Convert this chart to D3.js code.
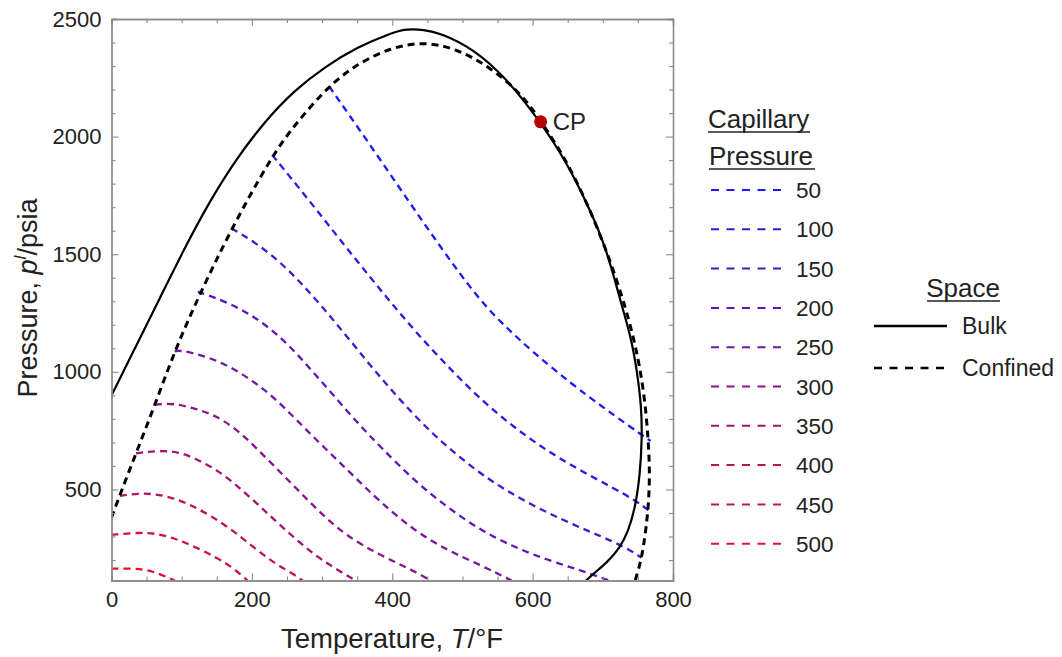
<!DOCTYPE html>
<html>
<head>
<meta charset="utf-8">
<script src="https://cdn.jsdelivr.net/npm/d3@7"></script>
<style>
  html, body { margin: 0; padding: 0; background: #fff; }
  svg { display: block; font-family: "Liberation Sans", Arial, sans-serif; }
</style>
</head>
<body>
<svg id="chart" width="1062" height="657"></svg>
<script>
// ---------------- DATA ----------------
const xTicksMajor = [0, 200, 400, 600, 800];
const yTicksMajor = [500, 1000, 1500, 2000, 2500];

// Bulk phase envelope (T in °F, p in psia)
const bulkT = [0, 35, 69, 104, 137, 175, 218, 261, 304, 351, 398, 420, 445, 468, 515, 563, 611, 648, 681, 705, 724, 740, 749, 755, 756, 753, 746, 736, 724, 706, 690, 676];
const bulkP = [900, 1110, 1314, 1525, 1710, 1894, 2064, 2198, 2297, 2382, 2440, 2458, 2455, 2440, 2375, 2248, 2063, 1894, 1695, 1525, 1313, 1150, 1000, 850, 725, 560, 420, 320, 250, 190, 150, 113];

// Confined phase envelope
const confinedT = [0, 14, 38, 62, 90, 123, 171, 228, 261, 308, 351, 398, 444, 491, 539, 586, 612, 650, 694, 729, 745, 754, 761, 765, 767, 765, 761, 756, 750, 746];
const confinedP = [380, 493, 677, 861, 1088, 1314, 1610, 1915, 2050, 2212, 2312, 2378, 2404, 2375, 2297, 2177, 2063, 1894, 1610, 1314, 1130, 1000, 850, 700, 560, 430, 320, 220, 150, 113];

// Capillary pressure levels and their curves [T, p]
const capLevels = [50, 100, 150, 200, 250, 300, 350, 400, 450, 500];
const cap50  = [[310,2214],[365,1980],[420,1740],[470,1525],[522,1313],[560,1195],[600,1085],[657,945],[700,850],[735,775],[768,706]];
const cap100 = [[229,1922],[280,1735],[330,1545],[380,1360],[430,1180],[480,1020],[525,885],[572,767],[620,665],[667,582],[714,508],[748,450],[766,410]];
const cap150 = [[171,1610],[205,1550],[240,1468],[270,1378],[300,1278],[330,1170],[364,1045],[394,938],[428,826],[460,730],[491,650],[525,569],[560,500],[600,432],[640,375],[680,322],[714,280],[740,240],[755,210]];
const cap200 = [[123,1341],[169,1292],[207,1228],[240,1150],[268,1065],[297,966],[325,870],[354,772],[382,685],[430,541],[477,427],[525,328],[572,257],[620,201],[667,158],[709,113]];
const cap250 = [[90,1088],[100,1092],[136,1065],[169,1023],[202,960],[230,895],[259,810],[287,725],[315,644],[345,557],[382,449],[430,328],[477,243],[525,180],[570,113]];
const cap300 = [[62,861],[88,867],[118,845],[147,817],[180,753],[209,668],[242,569],[270,484],[303,385],[336,300],[382,222],[430,155],[455,113]];
const cap350 = [[35,654],[66,665],[95,661],[118,633],[147,590],[175,527],[204,449],[232,371],[261,293],[289,222],[318,165],[348,113]];
const cap400 = [[12,473],[38,484],[62,481],[90,463],[118,427],[147,378],[175,321],[204,250],[232,187],[261,137],[272,113]];
const cap450 = [[0,307],[38,317],[62,314],[90,293],[118,257],[147,215],[171,172],[194,113]];
const cap500 = [[0,163],[24,164],[47,161],[66,144],[90,113]];
const capCurves = [cap50, cap100, cap150, cap200, cap250, cap300, cap350, cap400, cap450, cap500];

const criticalPoint = [611.4, 2063];

// ---------------- DRAWING ----------------
const svg = d3.select("#chart");
const x = d3.scaleLinear().domain([0, 800]).range([111.5, 673]);
const y = d3.scaleLinear().domain([113, 2500]).range([580.5, 19]);
const color = d3.scaleLinear().domain([50, 500]).range(["rgb(25,25,250)", "rgb(228,18,48)"]).interpolate(d3.interpolateRgb);

svg.append("defs").append("clipPath").attr("id", "clip")
  .append("rect").attr("x", x(0)).attr("y", y(2500))
  .attr("width", x(800) - x(0)).attr("height", y(113) - y(2500));

const line = d3.line().x(d => x(d[0])).y(d => y(d[1])).curve(d3.curveBasis);

const plot = svg.append("g").attr("clip-path", "url(#clip)");

capCurves.forEach((c, i) => {
  plot.append("path").attr("d", line(c))
    .attr("fill", "none").attr("stroke", color(capLevels[i]))
    .attr("stroke-width", 2.3).attr("stroke-dasharray", "7,5");
});

const bulk = bulkT.map((t, i) => [t, bulkP[i]]);
const confined = confinedT.map((t, i) => [t, confinedP[i]]);

plot.append("path").attr("d", line(confined)).attr("fill", "none")
  .attr("stroke", "#000").attr("stroke-width", 3).attr("stroke-dasharray", "7,5");
plot.append("path").attr("d", line(bulk)).attr("fill", "none")
  .attr("stroke", "#000").attr("stroke-width", 2.2);

// critical point
svg.append("circle").attr("cx", x(criticalPoint[0])).attr("cy", y(criticalPoint[1]))
  .attr("r", 6.5).attr("fill", "#b30000");
svg.append("text").attr("x", x(criticalPoint[0]) + 12).attr("y", y(criticalPoint[1]) + 8.5)
  .attr("font-size", 24).attr("fill", "#222").text("CP");

// Axes (frame with ticks on all sides)
const frameColor = "#8a8a8a";
const xMinor = d3.range(0, 801, 50).filter(v => v % 200 !== 0);
const yMinor = d3.range(200, 2501, 100).filter(v => v % 500 !== 0);

function styleAxis(g) {
  g.selectAll(".domain").attr("stroke", frameColor).attr("stroke-width", 1.3);
  g.selectAll(".tick line").attr("stroke", frameColor).attr("stroke-width", 1.1);
  g.selectAll(".tick text").attr("fill", "#222").attr("font-size", 22)
    .attr("font-family", "Liberation Sans, Arial, sans-serif");
}

// bottom
svg.append("g").attr("transform", `translate(0,${y(113)})`)
  .call(d3.axisBottom(x).tickValues(xTicksMajor).tickSize(-7).tickPadding(11).tickFormat(d3.format("d")))
  .call(styleAxis);
svg.append("g").attr("transform", `translate(0,${y(113)})`)
  .call(d3.axisBottom(x).tickValues(xMinor).tickSize(-4).tickFormat(""))
  .call(styleAxis);
// top
svg.append("g").attr("transform", `translate(0,${y(2500)})`)
  .call(d3.axisTop(x).tickValues(xTicksMajor).tickSize(-7).tickFormat(""))
  .call(styleAxis);
svg.append("g").attr("transform", `translate(0,${y(2500)})`)
  .call(d3.axisTop(x).tickValues(xMinor).tickSize(-4).tickFormat(""))
  .call(styleAxis);
// left
svg.append("g").attr("transform", `translate(${x(0)},0)`)
  .call(d3.axisLeft(y).tickValues(yTicksMajor).tickSize(-7).tickPadding(10).tickFormat(d3.format("d")))
  .call(styleAxis);
svg.append("g").attr("transform", `translate(${x(0)},0)`)
  .call(d3.axisLeft(y).tickValues(yMinor).tickSize(-4).tickFormat(""))
  .call(styleAxis);
// right
svg.append("g").attr("transform", `translate(${x(800)},0)`)
  .call(d3.axisRight(y).tickValues(yTicksMajor).tickSize(-7).tickFormat(""))
  .call(styleAxis);
svg.append("g").attr("transform", `translate(${x(800)},0)`)
  .call(d3.axisRight(y).tickValues(yMinor).tickSize(-4).tickFormat(""))
  .call(styleAxis);

// axis titles
const xt = svg.append("text").attr("x", 392).attr("y", 648).attr("text-anchor", "middle")
  .attr("font-size", 27.5).attr("fill", "#222");
xt.append("tspan").text("Temperature, ");
xt.append("tspan").attr("font-style", "italic").text("T");
xt.append("tspan").text("/°F");

const yt = svg.append("text").attr("transform", "translate(37,298) rotate(-90)")
  .attr("text-anchor", "middle").attr("font-size", 27).attr("fill", "#222");
yt.append("tspan").text("Pressure, ");
yt.append("tspan").attr("font-style", "italic").text("p");
yt.append("tspan").attr("font-style", "italic").attr("font-size", 17).attr("dy", -11).text("l");
yt.append("tspan").attr("dy", 11).text("/psia");

// Legend: capillary pressure
const lg = svg.append("g").attr("fill", "#222").attr("font-size", 22.5);
lg.append("text").attr("x", 708).attr("y", 128).attr("font-size", 26).text("Capillary");
lg.append("text").attr("x", 709).attr("y", 165).attr("font-size", 26).text("Pressure");
lg.append("line").attr("x1", 708).attr("x2", 810).attr("y1", 132).attr("y2", 132).attr("stroke", "#222").attr("stroke-width", 1.5);
lg.append("line").attr("x1", 709).attr("x2", 815).attr("y1", 169).attr("y2", 169).attr("stroke", "#222").attr("stroke-width", 1.5);

capLevels.forEach((lv, i) => {
  const cy = 190 + i * 39.3;
  lg.append("line").attr("x1", 711).attr("x2", 781).attr("y1", cy).attr("y2", cy)
    .attr("stroke", color(lv)).attr("stroke-width", 2).attr("stroke-dasharray", "8,7.5");
  lg.append("text").attr("x", 796).attr("y", cy).attr("dy", "0.36em").text(lv);
});

// Legend: space
const ls = svg.append("g").attr("fill", "#222").attr("font-size", 23);
ls.append("text").attr("x", 963).attr("y", 297).attr("text-anchor", "middle").attr("font-size", 26).text("Space");
ls.append("line").attr("x1", 927).attr("x2", 1000).attr("y1", 301).attr("y2", 301).attr("stroke", "#222").attr("stroke-width", 1.5);
ls.append("line").attr("x1", 874).attr("x2", 947).attr("y1", 326).attr("y2", 326).attr("stroke", "#000").attr("stroke-width", 2.5);
ls.append("text").attr("x", 962).attr("y", 326).attr("dy", "0.36em").text("Bulk");
ls.append("line").attr("x1", 874).attr("x2", 944).attr("y1", 368).attr("y2", 368).attr("stroke", "#000").attr("stroke-width", 2.5).attr("stroke-dasharray", "8,7.5");
ls.append("text").attr("x", 962).attr("y", 368).attr("dy", "0.36em").text("Confined");
</script>
</body>
</html>
